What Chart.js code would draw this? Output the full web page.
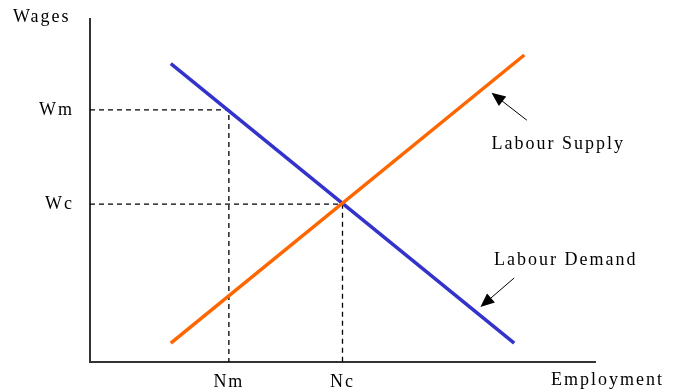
<!doctype html>
<html lang="en">
  <head>
    <meta charset="UTF-8" />
    <title>Labour Market - Minimum Wage</title>
    <script src="https://cdn.jsdelivr.net/npm/chart.js@4.4.0/dist/chart.umd.min.js"></script>
    <style>
      html, body { margin: 0; padding: 0; background: #fff; }
      #wrap { width: 673px; height: 391px; }
    </style>
  </head>
  <body>
    <div id="wrap"><canvas id="labourChart"></canvas></div>
    <script>
    // curves (employment, wages) in chart units
    const demandPoints = [{x: 16, y: 87}, {x: 84, y: 5.5}];
    const supplyPoints = [{x: 16, y: 5.5}, {x: 86, y: 89.5}];

    // marked levels
    const wageLevels = [73.5, 46];
    const wageLabels = ['Wm', 'Wc'];
    const employmentLevels = [27.5, 50];
    const employmentLabels = ['Nm', 'Nc'];

    // arrows: [from, to] in chart units
    const supplyArrow = [{x: 86.5, y: 70.5}, {x: 79.5, y: 78.5}];
    const demandArrow = [{x: 84, y: 24.5}, {x: 77.3, y: 16}];

    const FONT = '18px "Liberation Serif", "DejaVu Serif", serif';

    function guide(i) {
        return {
            data: [
                {x: 0, y: wageLevels[i]},
                {x: employmentLevels[i], y: wageLevels[i]},
                {x: employmentLevels[i], y: 0}
            ],
            borderColor: '#000',
            borderWidth: 1.3,
            borderDash: [5, 4],
            pointRadius: 0,
            order: 3
        };
    }

    function drawArrow(ctx, x1, y1, x2, y2) {
        const ang = Math.atan2(y2 - y1, x2 - x1);
        ctx.strokeStyle = '#000';
        ctx.fillStyle = '#000';
        ctx.lineWidth = 1;
        ctx.beginPath();
        ctx.moveTo(x1, y1);
        ctx.lineTo(x2 - 8 * Math.cos(ang), y2 - 8 * Math.sin(ang));
        ctx.stroke();
        ctx.beginPath();
        ctx.moveTo(x2, y2);
        ctx.lineTo(x2 - 14 * Math.cos(ang) + 6 * Math.sin(ang), y2 - 14 * Math.sin(ang) - 6 * Math.cos(ang));
        ctx.lineTo(x2 - 14 * Math.cos(ang) - 6 * Math.sin(ang), y2 - 14 * Math.sin(ang) + 6 * Math.cos(ang));
        ctx.closePath();
        ctx.fill();
    }

    const letterSpace = {
        id: 'letterSpace',
        beforeDraw(chart) {
            chart.ctx.letterSpacing = '2px';
        }
    };

    const annotations = {
        id: 'annotations',
        afterDraw(chart) {
            const ctx = chart.ctx;
            const xs = chart.scales.x, ys = chart.scales.y;
            ctx.save();
            ctx.font = FONT;
            ctx.letterSpacing = '2px';
            ctx.fillStyle = '#000';
            ctx.textBaseline = 'middle';
            ctx.textAlign = 'left';
            ctx.fillText('Wages', 13, 17);
            ctx.fillText('Employment', 551, 380);
            ctx.fillText('Labour Supply', xs.getPixelForValue(79.5), ys.getPixelForValue(63.6));
            ctx.fillText('Labour Demand', xs.getPixelForValue(80), ys.getPixelForValue(29.6));
            const a = supplyArrow, b = demandArrow;
            drawArrow(ctx, xs.getPixelForValue(a[0].x), ys.getPixelForValue(a[0].y),
                           xs.getPixelForValue(a[1].x), ys.getPixelForValue(a[1].y));
            drawArrow(ctx, xs.getPixelForValue(b[0].x), ys.getPixelForValue(b[0].y),
                           xs.getPixelForValue(b[1].x), ys.getPixelForValue(b[1].y));
            ctx.restore();
        }
    };

    new Chart(document.getElementById('labourChart'), {
        type: 'line',
        data: {
            datasets: [
                {
                    label: 'Labour Supply',
                    data: supplyPoints,
                    borderColor: '#ff6600',
                    borderWidth: 3.5,
                    pointRadius: 0,
                    order: 1
                },
                {
                    label: 'Labour Demand',
                    data: demandPoints,
                    borderColor: '#3333cc',
                    borderWidth: 3.5,
                    pointRadius: 0,
                    order: 2
                },
                guide(0),
                guide(1)
            ]
        },
        options: {
            responsive: true,
            maintainAspectRatio: false,
            animation: false,
            layout: { padding: { top: 19, right: 78, left: 0, bottom: 0 } },
            plugins: {
                legend: { display: false },
                tooltip: { enabled: false }
            },
            scales: {
                x: {
                    type: 'linear',
                    min: 0,
                    max: 100,
                    afterFit(s) { s.height = 29; s.paddingLeft = 0; s.paddingRight = 0; },
                    afterBuildTicks(s) { s.ticks = employmentLevels.map(v => ({value: v})); },
                    grid: { display: false, drawTicks: false },
                    border: { color: '#333', width: 2 },
                    ticks: {
                        padding: 9,
                        color: '#000',
                        font: { family: '"Liberation Serif", "DejaVu Serif", serif', size: 18 },
                        maxRotation: 0,
                        autoSkip: false,
                        callback: (v) => employmentLabels[employmentLevels.indexOf(v)]
                    }
                },
                y: {
                    type: 'linear',
                    min: 0,
                    max: 100,
                    afterFit(s) { s.width = 90; s.paddingTop = 0; s.paddingBottom = 0; },
                    afterBuildTicks(s) { s.ticks = wageLevels.map(v => ({value: v})); },
                    grid: { display: false, drawTicks: false },
                    border: { color: '#333', width: 2 },
                    ticks: {
                        padding: 16,
                        color: '#000',
                        font: { family: '"Liberation Serif", "DejaVu Serif", serif', size: 18 },
                        autoSkip: false,
                        callback: (v) => wageLabels[wageLevels.indexOf(v)]
                    }
                }
            }
        },
        plugins: [letterSpace, annotations]
    });
    </script>
  </body>
</html>
